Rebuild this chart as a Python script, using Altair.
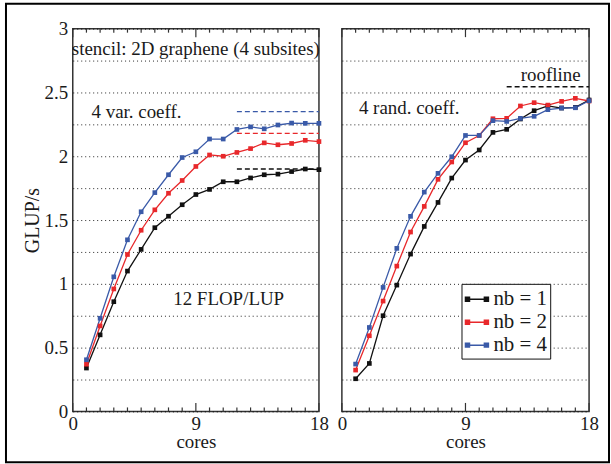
import altair as alt
import pandas as pd

# ---------------- data ----------------
cores = list(range(1, 19))
series = ["nb = 1", "nb = 2", "nb = 4"]
colors = ["#111111", "#e8282b", "#3a5aa8"]

left_nb1 = [0.34, 0.60, 0.86, 1.10, 1.27, 1.44, 1.53, 1.62, 1.70, 1.74, 1.80, 1.80, 1.83, 1.855, 1.86, 1.88, 1.90, 1.895]
left_nb2 = [0.37, 0.67, 0.96, 1.23, 1.42, 1.58, 1.71, 1.81, 1.92, 2.01, 2.00, 2.03, 2.06, 2.105, 2.09, 2.10, 2.125, 2.115]
left_nb4 = [0.405, 0.73, 1.055, 1.345, 1.565, 1.715, 1.855, 1.99, 2.035, 2.135, 2.135, 2.21, 2.23, 2.215, 2.245, 2.26, 2.258, 2.258]

right_nb1 = [0.256, 0.376, 0.75, 0.99, 1.233, 1.45, 1.638, 1.829, 1.97, 2.049, 2.187, 2.211, 2.292, 2.357, 2.394, 2.378, 2.383, 2.441]
right_nb2 = [0.324, 0.593, 0.865, 1.139, 1.406, 1.607, 1.819, 1.955, 2.106, 2.163, 2.294, 2.297, 2.394, 2.42, 2.401, 2.43, 2.454, 2.433]
right_nb4 = [0.371, 0.658, 0.972, 1.278, 1.529, 1.719, 1.866, 1.996, 2.163, 2.163, 2.279, 2.273, 2.297, 2.313, 2.365, 2.378, 2.38, 2.435]

ceil_series = ["nb = 4", "nb = 2", "nb = 1"]
ceil_values = [2.35, 2.18, 1.90]
ceil_from, ceil_to = 12, 18
roofline_value = 2.545

left_texts = ["stencil: 2D graphene (4 subsites)", "4 var. coeff.", "12 FLOP/LUP"]
left_text_x = [9, 4.66, 11.4]
left_text_y = [2.84, 2.35, 0.883]
right_texts = ["4 rand. coeff.", "roofline"]
right_text_x = [4.9, 15.2]
right_text_y = [2.38, 2.64]

x_ticks = list(range(0, 19))
y_ticks = [i * 0.25 for i in range(13)]

# ---------------- layout constants ----------------
W, H = 247, 384
FONT = "Liberation Serif"
TXT = "#1a1a1a"
px_per_unit = H / 3.0

color_scale = alt.Scale(domain=series, range=colors)
xscale = alt.Scale(domain=[0, 18], nice=False, zero=False)
yscale = alt.Scale(domain=[0, 3], nice=False, zero=False)


def long_df(a, b, c):
    rows = []
    for name, vals in zip(series, [a, b, c]):
        for cc, v in zip(cores, vals):
            rows.append({"cores": cc, "glup": v, "nb": name})
    return pd.DataFrame(rows)


def x_enc(field="cores"):
    return alt.X(
        f"{field}:Q", scale=xscale,
        axis=alt.Axis(values=x_ticks, labelExpr="datum.value % 9 == 0 ? datum.label : ''",
                      ticks=False, tickSize=0, domain=False, grid=False, labelFlush=False,
                      labelPadding=3, title="cores", titlePadding=-1, titleFontWeight="normal",
                      labelFont=FONT, titleFont=FONT, labelFontSize=19, titleFontSize=19,
                      labelColor=TXT, titleColor=TXT),
    )


def y_enc(show, field="glup"):
    return alt.Y(
        f"{field}:Q", scale=yscale,
        axis=alt.Axis(values=y_ticks,
                      labelExpr="datum.value % 0.5 == 0 ? format(datum.value, '~g') : ''",
                      labels=show, ticks=False, tickSize=0, domain=False, grid=True,
                      gridDash=[1, 3], gridColor="#000000", gridWidth=1, gridOpacity=0.85,
                      labelPadding=5, title="GLUP/s" if show else "",
                      titlePadding=2, titleFontWeight="normal",
                      labelFont=FONT, titleFont=FONT, labelFontSize=19, titleFontSize=20,
                      labelColor=TXT, titleColor=TXT),
    )


def tick_layer(show):
    rows = []
    minor = 4.0 / px_per_unit
    major = 8.5 / px_per_unit
    for t in x_ticks:
        ln = major if t % 9 == 0 else minor
        rows.append({"cores": t, "glup": 0.0, "glup2": ln})
        rows.append({"cores": t, "glup": 3.0, "glup2": 3.0 - ln})
    return alt.Chart(pd.DataFrame(rows)).mark_rule(color="#333333", strokeWidth=1.2).encode(
        x=x_enc(), y=y_enc(show), y2="glup2:Q")


def panel(df, show_y, legend, dashed_df, texts_df, dash_color_field=True):
    base = alt.Chart(df)
    lines = base.mark_line(
        strokeWidth=1.3,
        point=alt.OverlayMarkDef(shape="square", size=22, filled=True, opacity=1),
    ).encode(
        x=x_enc(), y=y_enc(show_y),
        color=alt.Color("nb:N", scale=color_scale, legend=legend, sort=series),
    )
    if dash_color_field:
        dashed = alt.Chart(dashed_df).mark_rule(strokeDash=[5, 3], strokeWidth=1.3).encode(
            x=x_enc(), x2="cores2:Q", y=y_enc(show_y),
            color=alt.Color("nb:N", scale=color_scale, legend=None))
    else:
        dashed = alt.Chart(dashed_df).mark_rule(strokeDash=[5, 3], strokeWidth=1.5, color="#111111").encode(
            x=x_enc(), x2="cores2:Q", y=y_enc(show_y))
    texts = alt.Chart(texts_df).mark_text(
        font=FONT, fontSize=19, color=TXT, align="center", baseline="middle"
    ).encode(x=x_enc(), y=y_enc(show_y), text="label:N")
    return [tick_layer(show_y), dashed, lines, texts]


left_df = long_df(left_nb1, left_nb2, left_nb4)
right_df = long_df(right_nb1, right_nb2, right_nb4)

left_dash = pd.DataFrame({"cores": [ceil_from] * 3, "cores2": [ceil_to] * 3,
                          "glup": ceil_values, "nb": ceil_series})
right_dash = pd.DataFrame({"cores": [ceil_from], "cores2": [ceil_to], "glup": [roofline_value]})

left_text_df = pd.DataFrame({"cores": left_text_x, "glup": left_text_y, "label": left_texts})
right_text_df = pd.DataFrame({"cores": right_text_x, "glup": right_text_y, "label": right_texts})

legend = alt.Legend(
    title=None, orient="none", legendX=120, legendY=256,
    fillColor="#ffffff", strokeColor="#111111", padding=3,
    symbolType="M-1,0H1M-1,-0.17H-0.65V0.17H-1ZM0.65,-0.17H1V0.17H0.65Z",
    symbolSize=529, symbolStrokeWidth=1.5,
    labelFont=FONT, labelFontSize=21, labelColor=TXT, labelOffset=4,
    rowPadding=-3, labelLimit=200,
)

frame = alt.Chart(pd.DataFrame({"a": [0]})).mark_rect(
    filled=False, stroke="#000000", strokeWidth=2
).encode(x=alt.value(-67), x2=alt.value(538), y=alt.value(-25), y2=alt.value(435))

left = alt.layer(frame, *panel(left_df, True, None, left_dash, left_text_df)).properties(width=W, height=H)
right = alt.layer(*panel(right_df, False, legend, right_dash, right_text_df, dash_color_field=False)).properties(width=W + 1, height=H)

chart = alt.hconcat(left, right, spacing=23, bounds="flush").resolve_legend(
    color="independent"
).properties(
    padding={"left": 4, "top": 1, "right": 0, "bottom": 1},
    background="#ffffff",
).configure(
    font=FONT
).configure_view(
    stroke="#333333", strokeWidth=1.5
).configure_legend(
    labelFont=FONT, labelFontSize=21, labelColor=TXT
)

chart.save("out.html", embed_options={"renderer": "svg", "actions": False})
